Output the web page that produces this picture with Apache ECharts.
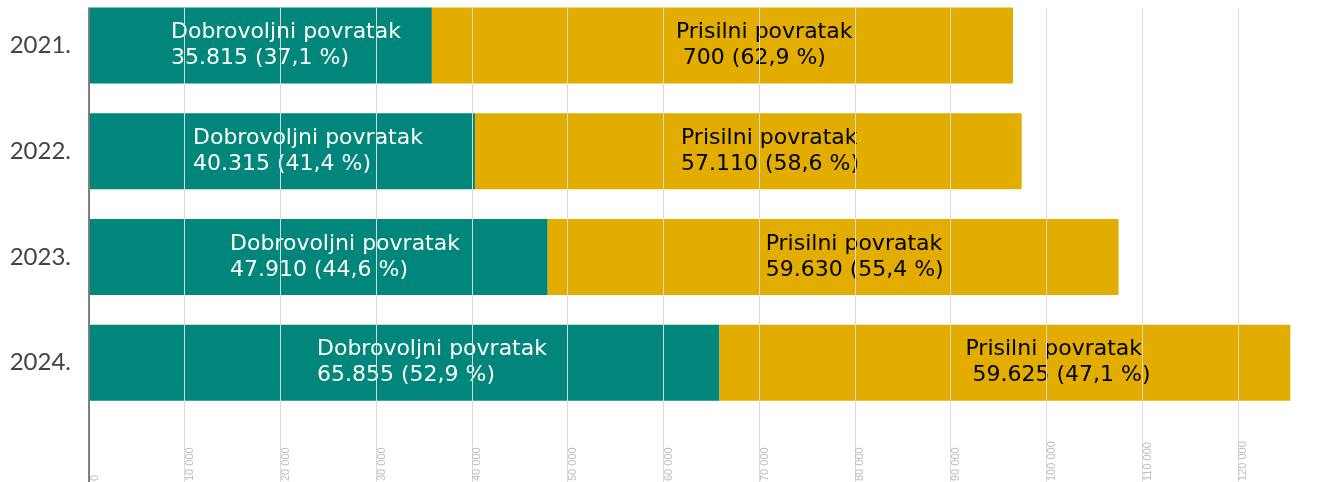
<!DOCTYPE html>
<html>
<head>
<meta charset="utf-8">
<script src="https://cdn.jsdelivr.net/npm/echarts@6/dist/echarts.min.js"></script>
<style>
  html, body { margin: 0; padding: 0; background: #ffffff; }
  #chart { width: 1324px; height: 482px; }
</style>
</head>
<body>
<div id="chart"></div>
<script>
// Returns by year: voluntary vs. forced
const years = ['2021.', '2022.', '2023.', '2024.'];
const dobrovoljni = [35815, 40315, 47910, 65855];
const prisilni = [60700, 57110, 59630, 59625];
const dobrovoljniPct = ['37,1', '41,4', '44,6', '52,9'];
const prisilniPct = ['62,9', '58,6', '55,4', '47,1'];
const prisilniShown = [' 700', '57.110', '59.630', ' 59.625'];
const axisMin = 0;
const axisMax = 129000;
const axisStep = 10000;

// where each label's text starts, in px from the left end of its bar segment
const dobrovoljniInset = [82, 104, 141, 228];
const prisilniInset = [244, 206, 218, 246];

const FONT = '"DejaVu Sans", "Open Sans", sans-serif';
const TEAL = '#00867a';
const GOLD = '#e3ad00';

const dotted = v => String(v).replace(/\B(?=(\d{3})+(?!\d))/g, '.');
const spaced = v => String(v).replace(/\B(?=(\d{3})+(?!\d))/g, ' ');

const chart = echarts.init(document.getElementById('chart'), null, { renderer: 'canvas' });

const labelBase = {
  show: true,
  align: 'left',
  verticalAlign: 'middle',
  fontFamily: FONT,
  fontSize: 22,
  lineHeight: 26
};

chart.setOption({
  animation: false,
  backgroundColor: '#ffffff',
  grid: [
    // bars
    { left: 89, right: 0, top: -7.3, bottom: 66.5, outerBoundsMode: 'none' },
    // full-height frame: gridlines, tick labels, left axis line
    { left: 89, right: 0, top: 8, bottom: 0, outerBoundsMode: 'none' }
  ],
  xAxis: [
    { gridIndex: 0, type: 'value', min: axisMin, max: axisMax, interval: axisStep, show: false },
    {
      gridIndex: 1, type: 'value', min: axisMin, max: axisMax, interval: axisStep, z: 10,
      axisLine: { show: false },
      axisTick: { show: false },
      splitLine: { show: true, lineStyle: { color: '#d9d9d9', width: 1 } },
      axisLabel: {
        rotate: 90,
        interval: 0,
        margin: -1,
        align: 'left',
        verticalAlign: 'top',
        showMaxLabel: false,
        color: '#bfbfbf',
        fontFamily: '"Liberation Sans", Arial, sans-serif',
        fontSize: 11,
        formatter: v => spaced(v)
      }
    }
  ],
  yAxis: [
    {
      gridIndex: 0, type: 'category', data: years, inverse: true,
      axisLine: { show: false },
      axisTick: { show: false },
      splitLine: { show: false },
      axisLabel: { color: '#404348', fontFamily: 'Lato, sans-serif', fontSize: 24, margin: 18 }
    },
    {
      gridIndex: 1, type: 'value', min: 0, max: 1, z: 10,
      axisLine: { show: true, lineStyle: { color: '#595959', width: 1.5 } },
      axisTick: { show: false },
      axisLabel: { show: false },
      splitLine: { show: false }
    }
  ],
  series: [
    {
      name: 'Dobrovoljni povratak',
      type: 'bar',
      stack: 'povratak',
      xAxisIndex: 0,
      yAxisIndex: 0,
      barWidth: 76,
      itemStyle: { color: TEAL },
      label: Object.assign({}, labelBase, {
        color: '#ffffff',
        formatter: p => 'Dobrovoljni povratak\n' + dotted(p.value) + ' (' + dobrovoljniPct[p.dataIndex] + ' %)'
      }),
      data: dobrovoljni.map((v, i) => ({ value: v, label: { position: [dobrovoljniInset[i], '50%'] } }))
    },
    {
      name: 'Prisilni povratak',
      type: 'bar',
      stack: 'povratak',
      xAxisIndex: 0,
      yAxisIndex: 0,
      barWidth: 76,
      itemStyle: { color: GOLD },
      label: Object.assign({}, labelBase, {
        color: '#000000',
        formatter: p => 'Prisilni povratak\n' + prisilniShown[p.dataIndex] + ' (' + prisilniPct[p.dataIndex] + ' %)'
      }),
      data: prisilni.map((v, i) => ({ value: v, label: { position: [prisilniInset[i], '50%'] } }))
    }
  ]
});
</script>
</body>
</html>
